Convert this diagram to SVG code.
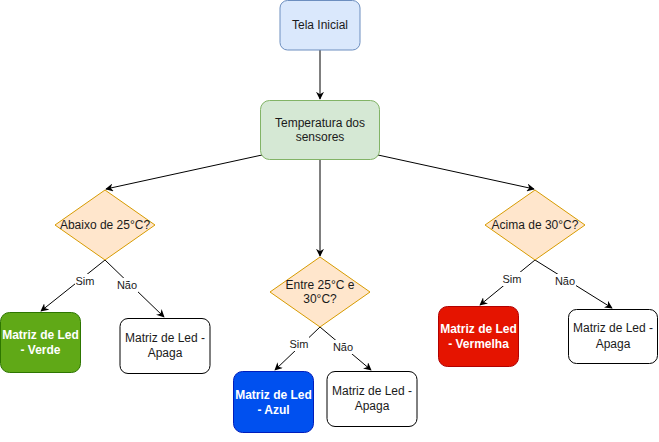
<svg xmlns="http://www.w3.org/2000/svg" width="659" height="442" viewBox="0 0 659 442">
<defs>
<marker id="arr" viewBox="0 0 10 10" refX="9" refY="5" markerWidth="8" markerHeight="8" markerUnits="userSpaceOnUse" orient="auto">
<path d="M0,0 L10,5 L0,10 L3,5 z" fill="#000"/>
</marker>
<style>
text{font-family:"Liberation Sans",Arial,sans-serif;font-size:12px;fill:#1a1a1a;text-anchor:middle;dominant-baseline:central}
.w{fill:#fff;font-weight:bold}
.lbl{font-size:11px}
.e{fill:none;stroke:#000;stroke-width:1;marker-end:url(#arr)}
.dec{fill:#ffe6cc;stroke:#d79b00}
.wb{fill:#fff;stroke:#000}
</style>
</defs>
<rect width="659" height="442" fill="#fff"/>
<g id="connectors">
<path class="e" d="M320,50 L320,99"/>
<path class="e" d="M262,155 L106,189"/>
<path class="e" d="M320,160 L320,256"/>
<path class="e" d="M378,155 L534,189"/>
<path class="e" d="M105,260 L41,311"/>
<path class="e" d="M105,260 L164,317"/>
<path class="e" d="M320,327 L275,370"/>
<path class="e" d="M320,327 L371,370"/>
<path class="e" d="M535,260 L480,305"/>
<path class="e" d="M535,260 L612,308"/>
<g>
<rect x="75" y="274" width="20" height="14" fill="#fff"/><text class="lbl" x="85" y="281">Sim</text>
<rect x="116" y="278" width="22" height="14" fill="#fff"/><text class="lbl" x="127" y="285">Não</text>
<rect x="289" y="337" width="20" height="14" fill="#fff"/><text class="lbl" x="299" y="344">Sim</text>
<rect x="332" y="340" width="22" height="14" fill="#fff"/><text class="lbl" x="343" y="347">Não</text>
<rect x="502" y="272" width="20" height="14" fill="#fff"/><text class="lbl" x="512" y="279">Sim</text>
<rect x="554" y="274" width="22" height="14" fill="#fff"/><text class="lbl" x="565" y="281">Não</text>
</g>
</g>
<g id="tela-inicial">
<rect x="280" y="0.5" width="80" height="49.5" rx="7.5" fill="#dae8fc" stroke="#6c8ebf"/>
<text x="320" y="25">Tela Inicial</text>
</g>
<g id="temperatura">
<rect x="260.5" y="100.5" width="119" height="59" rx="9" fill="#d5e8d4" stroke="#82b366"/>
<text x="320" y="123">Temperatura dos</text>
<text x="320" y="137">sensores</text>
</g>
<g id="abaixo">
<path class="dec" d="M105,190 L155,225 L105,260 L55,225 Z"/>
<text x="105" y="225">Abaixo de 25°C?</text>
</g>
<g id="entre">
<path class="dec" d="M320,257 L370,292 L320,327 L270,292 Z"/>
<text x="320" y="285">Entre 25°C e</text>
<text x="320" y="299">30°C?</text>
</g>
<g id="acima">
<path class="dec" d="M535,190 L585,225 L535,260 L485,225 Z"/>
<text x="535" y="225">Acima de 30°C?</text>
</g>
<g id="verde">
<rect x="0.5" y="312.5" width="80" height="60" rx="9" fill="#60a917" stroke="#2d7600"/>
<text class="w" x="40.5" y="335">Matriz de Led</text>
<text class="w" x="40.5" y="350">- Verde</text>
</g>
<g id="apaga1">
<rect x="120" y="318.5" width="90" height="55" rx="8" class="wb"/>
<text x="165" y="338">Matriz de Led -</text>
<text x="165" y="353">Apaga</text>
</g>
<g id="azul">
<rect x="233.5" y="371.5" width="80" height="61" rx="9" fill="#0050ef" stroke="#001dbc"/>
<text class="w" x="273.5" y="395">Matriz de Led</text>
<text class="w" x="273.5" y="410">- Azul</text>
</g>
<g id="apaga2">
<rect x="327" y="371.5" width="90" height="55" rx="8" class="wb"/>
<text x="372" y="391">Matriz de Led -</text>
<text x="372" y="406">Apaga</text>
</g>
<g id="vermelha">
<rect x="438.5" y="306.5" width="80" height="60" rx="9" fill="#e51400" stroke="#b20000"/>
<text class="w" x="478.5" y="329">Matriz de Led</text>
<text class="w" x="478.5" y="344">- Vermelha</text>
</g>
<g id="apaga3">
<rect x="568.5" y="309.5" width="89" height="54" rx="8" class="wb"/>
<text x="613" y="328">Matriz de Led -</text>
<text x="613" y="344">Apaga</text>
</g>
</svg>
